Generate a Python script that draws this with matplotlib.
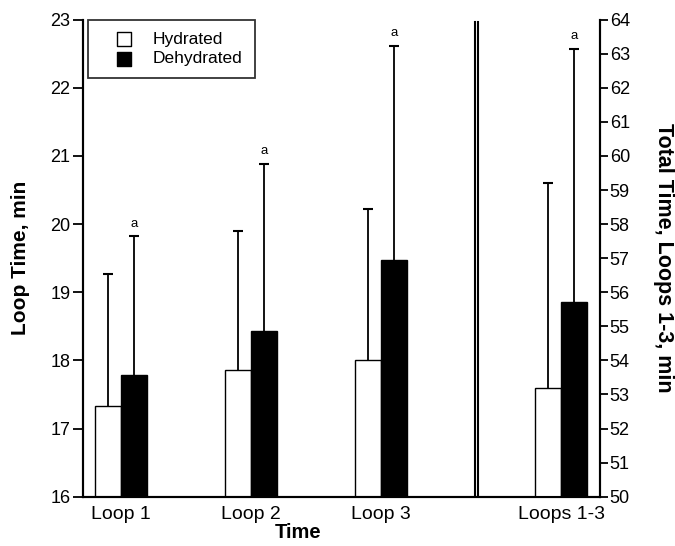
import numpy as np
import matplotlib.pyplot as plt

plt.rcParams['font.family'] = ['Liberation Sans', 'DejaVu Sans']

# data
loops = ['Loop 1', 'Loop 2', 'Loop 3']
hyd = [17.33, 17.86, 18.01]
hyd_sd = [1.94, 2.04, 2.21]
dehyd = [17.78, 18.43, 19.48]
dehyd_sd = [2.04, 2.45, 3.13]

total_label = 'Loops 1-3'
total_hyd = 53.18
total_hyd_sd = 6.02
total_dehyd = 55.70
total_dehyd_sd = 7.43

xpos = [0, 1, 2]
xtot = 3.38
w = 0.2

fig = plt.figure(figsize=(6.75, 5.46), dpi=100)
ax = fig.add_axes([0.123, 0.0903, 0.766, 0.8737])
ax2 = ax.twinx()


def bar_sd(a, x, y, sd, col):
    # bar plus upper-only error whisker
    a.bar(x, y, w, color=col, edgecolor='black', lw=1.0, zorder=2)
    a.vlines(x, y, y + sd, color='black', lw=1.3, zorder=1)
    a.plot([x], [y + sd], marker='_', ms=7, mew=1.5, color='black', zorder=1)


for i, x in enumerate(xpos):
    bar_sd(ax, x - w/2, hyd[i], hyd_sd[i], 'white')
    bar_sd(ax, x + w/2, dehyd[i], dehyd_sd[i], 'black')
    ax.text(x + w/2, dehyd[i] + dehyd_sd[i] + 0.1, 'a', ha='center', va='bottom', fontsize=9.5)

bar_sd(ax2, xtot - w/2, total_hyd, total_hyd_sd, 'white')
bar_sd(ax2, xtot + w/2, total_dehyd, total_dehyd_sd, 'black')
ax2.text(xtot + w/2, total_dehyd + total_dehyd_sd + 0.2, 'a', ha='center', va='bottom', fontsize=9.5)

ax.set_xlim(-0.29, 3.68)
ax.set_ylim(16, 23)
ax2.set_ylim(50, 64)
ax.set_yticks(np.arange(16, 24, 1))
ax2.set_yticks(np.arange(50, 65, 1))
ax.set_xticks(xpos + [xtot])
ax.set_xticklabels(loops + [total_label], fontsize=14)
ax.tick_params(axis='x', length=0, pad=7)
ax.tick_params(axis='y', labelsize=13, length=7, width=1.3, pad=2)
ax2.tick_params(axis='y', labelsize=13, length=6, width=1.3, pad=1)

for a in (ax, ax2):
    a.spines['top'].set_visible(False)
    for s in ('left', 'right', 'bottom'):
        a.spines[s].set_linewidth(1.5)

# double separator line
ax.axvline(2.72, ymin=0, ymax=0.995, color='black', lw=1.5)
ax.axvline(2.745, ymin=0, ymax=0.995, color='black', lw=1.5)

ax.set_ylabel('Loop Time, min', fontsize=15, fontweight='bold', labelpad=15)
ax2.set_ylabel('Total Time, Loops 1-3, min', fontsize=15.5, fontweight='bold', rotation=-90, labelpad=32)
ax.set_xlabel('Time', fontsize=14.5, fontweight='bold', labelpad=0, x=0.415)

# legend
h1 = ax.scatter([], [], marker='s', s=100, facecolor='white', edgecolor='black', lw=1)
h2 = ax.scatter([], [], marker='s', s=100, facecolor='black', edgecolor='black', lw=1)
leg = ax.legend([h1, h2], ['Hydrated', 'Dehydrated'], loc='upper left', bbox_to_anchor=(0.01, 1.0),
                fontsize=12.5, frameon=True, fancybox=False, edgecolor='black',
                handletextpad=0.25, borderpad=0.7, labelspacing=0.24, borderaxespad=0,
                handlelength=2.78)
leg.get_frame().set_linewidth(1.3)

fig.savefig('out.png', dpi=100)
